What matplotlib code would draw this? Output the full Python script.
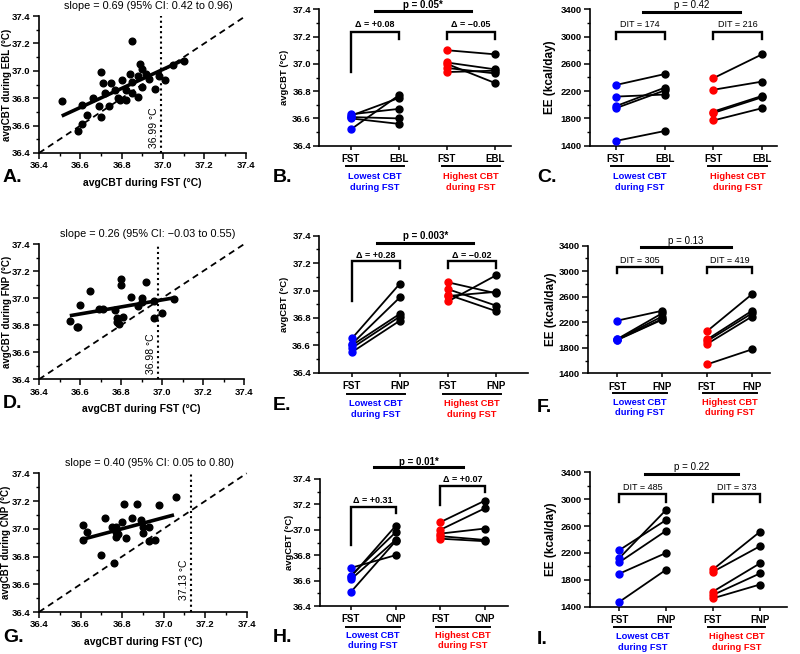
import numpy as np
import matplotlib.pyplot as plt
import matplotlib.transforms as mtransforms
from matplotlib.ticker import MultipleLocator

plt.rcParams['font.family'] = ['Liberation Sans', 'DejaVu Sans']
plt.rcParams['font.weight'] = 'bold'
plt.rcParams['axes.labelweight'] = 'bold'
plt.rcParams['axes.linewidth'] = 1.2

W, H = 800, 654

# ---------------- data ----------------
# scatter panels (x = avgCBT during FST)
a_x = [36.51, 36.61, 36.59, 36.61, 36.63, 36.66, 36.70, 36.69, 36.70, 36.71, 36.72, 36.74, 36.75,
       36.77, 36.78, 36.79, 36.82, 36.80, 36.82, 36.84, 36.85, 36.85, 36.85, 36.88, 36.88, 36.89,
       36.90, 36.90, 36.92, 36.93, 36.96, 36.98, 37.01, 37.05, 37.10]
a_y = [36.78, 36.75, 36.56, 36.61, 36.68, 36.80, 36.99, 36.74, 36.66, 36.91, 36.84, 36.74, 36.91,
       36.86, 36.80, 36.79, 36.79, 36.93, 36.86, 36.98, 36.92, 37.22, 36.84, 36.81, 36.96, 37.05,
       37.01, 36.88, 36.98, 36.94, 36.87, 36.96, 36.93, 37.04, 37.07]
a_fit_x = [36.51, 37.10]
a_fit_y = [36.67, 37.08]
a_cut = 36.99

d_x = [36.55, 36.585, 36.59, 36.60, 36.65, 36.69, 36.71, 36.77, 36.78, 36.78, 36.79, 36.80, 36.80,
       36.81, 36.85, 36.88, 36.90, 36.90, 36.92, 36.96, 36.96, 37.00, 37.06]
d_y = [36.83, 36.79, 36.79, 36.95, 37.05, 36.92, 36.92, 36.91, 36.85, 36.82, 36.81, 37.14, 37.10,
       36.86, 37.01, 36.94, 37.00, 36.97, 37.12, 36.98, 36.85, 36.89, 36.99]
d_fit_x = [36.55, 37.05]
d_fit_y = [36.87, 37.00]
d_cut = 36.98

g_x = [36.61, 36.61, 36.63, 36.70, 36.72, 36.75, 36.76, 36.77, 36.77, 36.77, 36.78, 36.80, 36.81,
       36.82, 36.85, 36.87, 36.89, 36.90, 36.90, 36.93, 36.93, 36.96, 36.98, 37.06]
g_y = [37.03, 36.92, 36.98, 36.81, 37.08, 37.01, 36.75, 37.01, 36.98, 36.94, 36.96, 37.05, 37.18,
       36.93, 37.08, 37.18, 37.06, 37.01, 36.97, 37.01, 36.91, 36.92, 37.17, 37.23]
g_fit_x = [36.60, 37.05]
g_fit_y = [36.92, 37.10]
g_cut = 37.13

# paired panels: lowest / highest CBT groups, FST -> second condition
b_lo = ([36.52, 36.63, 36.62, 36.61, 36.60], [36.77, 36.67, 36.75, 36.60, 36.56])
b_hi = ([37.10, 37.01, 37.00, 36.97, 36.94], [37.07, 36.96, 36.86, 36.93, 36.95])
c_lo = ([2290, 2120, 1980, 1950, 1470], [2450, 2150, 2250, 2210, 1615])
c_hi = ([2390, 2220, 1900, 1880, 1770], [2740, 2340, 2130, 2110, 1950])
e_lo = ([36.65, 36.61, 36.60, 36.58, 36.55], [37.05, 36.95, 36.83, 36.81, 36.78])
e_hi = ([37.06, 37.01, 36.97, 36.96, 36.92], [36.98, 36.89, 36.85, 36.99, 37.11])
f_lo = ([2225, 1935, 1930, 1925, 1920], [2380, 2340, 2290, 2250, 2240])
f_hi = ([2060, 1930, 1905, 1860, 1540], [2640, 2380, 2340, 2290, 1775])
h_lo = ([36.70, 36.64, 36.63, 36.61, 36.51], [36.80, 36.98, 37.03, 36.92, 36.91])
h_hi = ([37.06, 37.00, 36.97, 36.95, 36.93], [37.23, 37.17, 37.01, 36.92, 36.91])
i_lo = ([2240, 2120, 2060, 1890, 1470], [2690, 2840, 2530, 2200, 1950])
i_hi = ([1955, 1920, 1625, 1575, 1525], [2515, 2300, 2045, 1895, 1730])

fig = plt.figure(figsize=(W / 100, H / 100), dpi=100)


def px_axes(left, right, top, bottom):
    ax = fig.add_axes([left / W, 1 - bottom / H, (right - left) / W, (bottom - top) / H])
    ax.spines['top'].set_visible(False)
    ax.spines['right'].set_visible(False)
    ax.tick_params(which='major', length=4, width=1.1, labelsize=6.8, pad=2)
    ax.tick_params(which='minor', length=2, width=1.0)
    return ax


def scatter_panel(ax, x, y, fx, fy, cut, ylab, slope_txt, cut_y0):
    ax.set_xlim(36.4, 37.4)
    ax.set_ylim(36.4, 37.4)
    ax.plot([36.4, 37.4], [36.4, 37.4], color='k', lw=1.3, dashes=(3.5, 2.5), clip_on=False)
    ax.plot([cut, cut], [36.4, 37.4], color='k', lw=1.5, ls=(0, (1, 1.5)))
    ax.plot(fx, fy, color='k', lw=2.6, solid_capstyle='butt')
    ax.plot(x, y, 'o', color='k', ms=4.8, clip_on=False)
    ax.xaxis.set_major_locator(MultipleLocator(0.2))
    ax.xaxis.set_minor_locator(MultipleLocator(0.1))
    ax.yaxis.set_major_locator(MultipleLocator(0.2))
    ax.yaxis.set_minor_locator(MultipleLocator(0.1))
    ax.xaxis.set_major_formatter(plt.FormatStrFormatter('%.1f'))
    ax.yaxis.set_major_formatter(plt.FormatStrFormatter('%.1f'))
    ax.set_xlabel('avgCBT during FST (°C)', fontsize=7.5)
    ax.set_ylabel(ylab, fontsize=7)
    ax.xaxis.set_label_coords(0.5, -0.18)
    ax.yaxis.set_label_coords(-0.133, 0.5)
    ax.text(0.53, 1.075, slope_txt, transform=ax.transAxes, ha='center', va='center',
            fontsize=7.8, fontweight='normal')
    ax.annotate(f'{cut:.2f} °C', xy=(cut, cut_y0), xytext=(-2, 0), textcoords='offset pixels',
                rotation=90, ha='right', va='bottom', fontsize=7.5, fontweight='normal')


def paired_panel(ax, lo, hi, cats, xlim, ylim, ylab, ylab_x, brackets, ptxt, pbar, ptxt_y,
                 pbold, offs):
    for grp, (x0, x1), col in ((lo, (1, 2), 'blue'), (hi, (3, 4), 'red')):
        a, b = grp
        for va, vb in zip(a, b):
            ax.plot([x0, x1], [va, vb], color='k', lw=1.3, zorder=2)
        ax.plot([x0] * len(a), a, 'o', color=col, ms=5, zorder=3, clip_on=False)
        ax.plot([x1] * len(b), b, 'o', color='k', ms=5, zorder=3, clip_on=False)
    ax.set_xlim(*xlim)
    ax.set_ylim(*ylim)
    ax.set_xticks([1, 2, 3, 4])
    ax.set_xticklabels(cats, fontsize=7)
    ax.tick_params(axis='x', length=3, pad=3)
    span = ylim[1] - ylim[0]
    ax.set_yticks(np.linspace(ylim[0], ylim[1], 6))
    ax.set_yticks(np.linspace(ylim[0], ylim[1], 11), minor=True)
    if span < 10:
        ax.yaxis.set_major_formatter(plt.FormatStrFormatter('%.1f'))
        ax.set_ylabel(ylab, fontsize=6.8)
    else:
        ax.yaxis.set_major_formatter(plt.FormatStrFormatter('%d'))
        ax.set_ylabel(ylab, fontsize=8.5)
    ax.yaxis.set_label_coords(ylab_x, 0.5)
    # brackets
    for (x0, x1, top, lb, rb, ty, txt, bold) in brackets:
        ax.plot([x0, x0, x1, x1], [lb, top, top, rb], color='k', lw=1.7, clip_on=False,
                solid_joinstyle='miter')
        ax.text((x0 + x1) / 2, ty, txt, ha='center', va='center', fontsize=6.5,
                fontweight='bold' if bold else 'normal')
    ax.plot(pbar[:2], [pbar[2]] * 2, color='k', lw=2.2, clip_on=False)
    ax.text((pbar[0] + pbar[1]) / 2, ptxt_y, ptxt, ha='center', va='center', fontsize=7,
            fontweight='bold' if pbold else 'normal')
    # group underline + labels
    line_off, t1, t2 = offs
    tr = mtransforms.offset_copy(ax.get_xaxis_transform(), fig=fig, x=0, y=-line_off, units='dots')
    for xs in ((0.9, 2.1), (2.9, 4.1)):
        ax.plot(xs, [0, 0], color='k', lw=1.4, transform=tr, clip_on=False)
    for xc, col, word in ((1.5, 'blue', 'Lowest CBT'), (3.5, 'red', 'Highest CBT')):
        for off, s in ((t1, word), (t2, 'during FST')):
            ax.annotate(s, xy=(xc, 0), xycoords=ax.get_xaxis_transform(), xytext=(0, -off),
                        textcoords='offset pixels', ha='center', va='center', color=col,
                        fontsize=6.7)


# ---- row 1 ----
axA = px_axes(39, 245.7, 16, 153)
scatter_panel(axA, a_x, a_y, a_fit_x, a_fit_y, a_cut, 'avgCBT during EBL (°C)',
              'slope = 0.69 (95% CI: 0.42 to 0.96)', 36.44)

axB = px_axes(319.3, 510.7, 9.3, 145.7)
paired_panel(axB, b_lo, b_hi, ['FST', 'EBL', 'FST', 'EBL'], (0.34, 4.33), (36.4, 37.4),
             'avgCBT (°C)', -0.158,
             [(1, 2, 37.236, 36.94, 37.18, 37.288, 'Δ = +0.08', True),
              (3, 4, 37.236, 37.18, 37.18, 37.288, 'Δ = −0.05', True)],
             'p = 0.05*', (1.5, 3.5, 37.385), 37.435, True, (20, 31, 42))

axC = px_axes(590, 776.7, 9.3, 145.7)
paired_panel(axC, c_lo, c_hi, ['FST', 'EBL', 'FST', 'EBL'], (0.47, 4.3), (1400, 3400),
             'EE (kcal/day)', -0.182,
             [(1, 2, 3072, 2965, 2965, 3170, 'DIT = 174', False),
              (3, 4, 3072, 2965, 2965, 3170, 'DIT = 216', False)],
             'p = 0.42', (1.55, 3.55, 3356), 3464, False, (20, 31, 42))

# ---- row 2 ----
axD = px_axes(39, 244.3, 244, 379.3)
scatter_panel(axD, d_x, d_y, d_fit_x, d_fit_y, d_cut, 'avgCBT during FNP (°C)',
              'slope = 0.26 (95% CI: −0.03 to 0.55)', 36.44)

axE = px_axes(319.3, 528, 235.7, 372.7)
paired_panel(axE, e_lo, e_hi, ['FST', 'FNP', 'FST', 'FNP'], (0.32, 4.67), (36.4, 37.4),
             'avgCBT (°C)', -0.145,
             [(1, 2, 37.218, 36.923, 37.166, 37.255, 'Δ = +0.28', True),
              (3, 4, 37.218, 37.166, 37.166, 37.255, 'Δ = −0.02', True)],
             'p = 0.003*', (1.53, 3.53, 37.349), 37.40, True, (21, 30.5, 41.5))

axF = px_axes(588.3, 770, 245.7, 373.3)
paired_panel(axF, f_lo, f_hi, ['FST', 'FNP', 'FST', 'FNP'], (0.36, 4.4), (1400, 3400),
             'EE (kcal/day)', -0.172,
             [(1, 2, 3071, 2967, 2967, 3165, 'DIT = 305', False),
              (3, 4, 3071, 2967, 2967, 3165, 'DIT = 419', False)],
             'p = 0.13', (1.53, 3.53, 3384), 3478, False, (19.5, 29, 39))

# ---- row 3 ----
axG = px_axes(39, 246.7, 473.3, 612)
scatter_panel(axG, g_x, g_y, g_fit_x, g_fit_y, g_cut, 'avgCBT during CNP (°C)',
              'slope = 0.40 (95% CI: 0.05 to 0.80)', 36.49)

axH = px_axes(320, 508.3, 479, 606)
paired_panel(axH, h_lo, h_hi, ['FST', 'CNP', 'FST', 'CNP'], (0.31, 4.52), (36.4, 37.4),
             'avgCBT (°C)', -0.138,
             [(1, 2, 37.177, 36.88, 37.13, 37.227, 'Δ = +0.31', True),
              (3, 4, 37.345, 37.195, 37.30, 37.40, 'Δ = +0.07', True)],
             'p = 0.01*', (1.51, 3.51, 37.497), 37.536, True, (20.7, 30, 40))

axI = px_axes(590, 786.7, 472.3, 606.7)
paired_panel(axI, i_lo, i_hi, ['FST', 'FNP', 'FST', 'FNP'], (0.38, 4.57), (1400, 3400),
             'EE (kcal/day)', -0.168,
             [(1, 2, 3077, 2963, 2963, 3172, 'DIT = 485', False),
              (3, 4, 3077, 2963, 2963, 3172, 'DIT = 373', False)],
             'p = 0.22', (1.55, 3.53, 3370), 3484, False, (20.7, 30, 40.5))

# panel letters
for lab, x, y in (('A.', 3, 178), ('B.', 273, 178), ('C.', 537, 177),
                  ('D.', 3, 404), ('E.', 273, 406), ('F.', 537, 408),
                  ('G.', 3, 637), ('H.', 273, 638), ('I.', 537, 639)):
    fig.text(x / W, 1 - y / H, lab, ha='left', va='center', fontsize=14, fontweight='bold')

fig.savefig('out.png', dpi=100)
